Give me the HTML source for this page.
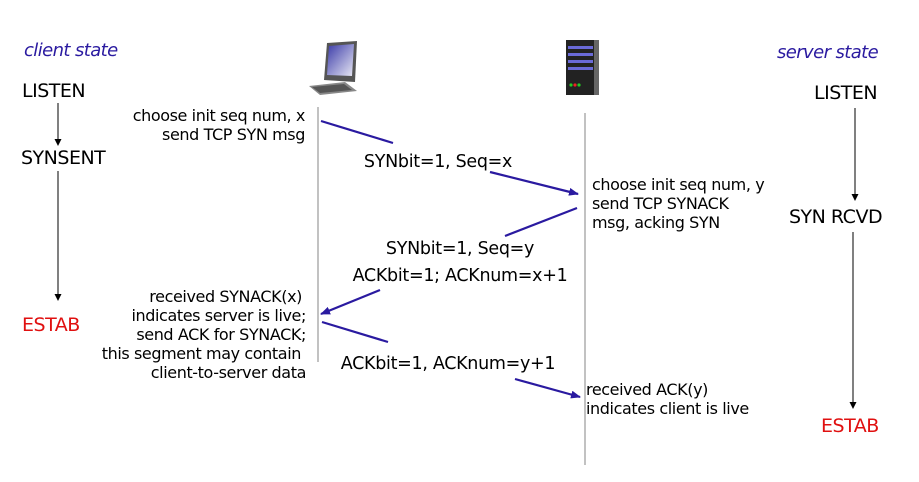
<!DOCTYPE html>
<html><head><meta charset="utf-8"><style>
html,body{margin:0;padding:0;background:#fff;}
svg{display:block;}
text{font-family:"DejaVu Sans","Liberation Sans",sans-serif;}
</style></head><body>
<svg width="919" height="482" viewBox="0 0 919 482" xmlns="http://www.w3.org/2000/svg">
<defs>
<marker id="ab" markerWidth="10" markerHeight="8" refX="9" refY="4" orient="auto" markerUnits="userSpaceOnUse"><path d="M0,0 L10,4 L0,8 Z" fill="#2a1aa0"/></marker>
<linearGradient id="scr" x1="0" y1="0" x2="1" y2="1"><stop offset="0" stop-color="#3a3aa8"/><stop offset="1" stop-color="#e8e8f4"/></linearGradient>
</defs>
<text x="24" y="56" font-size="18" font-style="italic" fill="#2a1aa0" letter-spacing="-0.6">client state</text>
<text x="777" y="58" font-size="18" font-style="italic" fill="#2a1aa0" letter-spacing="-0.6">server state</text>
<g font-size="19" fill="#000" letter-spacing="-0.5">
<text x="22" y="97">LISTEN</text>
<text x="21" y="164">SYNSENT</text>
<text x="22" y="331" fill="#e01010">ESTAB</text>
<text x="814" y="99">LISTEN</text>
<text x="789" y="223">SYN RCVD</text>
<text x="821" y="432" fill="#e01010">ESTAB</text>
</g>
<g stroke="#000" stroke-width="1">
<line x1="58" y1="103" x2="58" y2="141"/>
<line x1="58" y1="171" x2="58" y2="296"/>
<line x1="855" y1="108" x2="855" y2="196"/>
<line x1="853" y1="232" x2="853" y2="404"/>
</g>
<g fill="#000">
<path d="M54.5,139 L61.5,139 L58,146 Z"/>
<path d="M54.5,294 L61.5,294 L58,301 Z"/>
<path d="M851.5,194 L858.5,194 L855,201 Z"/>
<path d="M849.5,402 L856.5,402 L853,409 Z"/>
</g>
<line x1="318" y1="107" x2="318" y2="362" stroke="#999" stroke-width="1.2"/>
<line x1="585" y1="113" x2="585" y2="465" stroke="#999" stroke-width="1.2"/>
<g>
<path d="M327,43 L357,41 L355,82 L324,80 Z" fill="#555"/>
<path d="M329,46 L354,44 L352,76 L327,75 Z" fill="url(#scr)"/>
<path d="M309,86 L345,82 L357,91 L320,95 Z" fill="#888"/>
<path d="M312,87 L344,84 L352,90 L320,93 Z" fill="#555"/>
</g>
<g>
<rect x="566" y="40" width="32" height="55" fill="#222"/>
<rect x="594" y="40" width="5" height="55" fill="#666"/>
<rect x="568" y="46" width="25" height="3" fill="#6a6ad8"/>
<rect x="568" y="53" width="25" height="3" fill="#6a6ad8"/>
<rect x="568" y="60" width="25" height="3" fill="#6a6ad8"/>
<rect x="568" y="67" width="25" height="3" fill="#6a6ad8"/>
<circle cx="571" cy="85" r="1.6" fill="#2c2"/><circle cx="575" cy="85" r="1.6" fill="#e22"/><circle cx="579" cy="85" r="1.6" fill="#2c2"/>
</g>
<g stroke="#2a1aa0" stroke-width="2.2" fill="none">
<line x1="321" y1="121" x2="393" y2="143"/>
<line x1="490" y1="172" x2="578" y2="194" marker-end="url(#ab)"/>
<line x1="577" y1="208" x2="505" y2="236"/>
<line x1="380" y1="290" x2="321" y2="314" marker-end="url(#ab)"/>
<line x1="322" y1="322" x2="388" y2="342"/>
<line x1="515" y1="379" x2="580" y2="397" marker-end="url(#ab)"/>
</g>
<g font-size="17.5" fill="#000" text-anchor="middle" letter-spacing="-0.3">
<text x="438" y="167">SYNbit=1, Seq=x</text>
<text x="460" y="254">SYNbit=1, Seq=y</text>
<text x="460" y="281">ACKbit=1; ACKnum=x+1</text>
<text x="448" y="369">ACKbit=1, ACKnum=y+1</text>
</g>
<g font-size="16" fill="#000" text-anchor="end" letter-spacing="-0.4">
<text x="305" y="121">choose init seq num, x</text>
<text x="305" y="140">send TCP SYN msg</text>
<text x="302" y="302">received SYNACK(x)</text>
<text x="306" y="321">indicates server is live;</text>
<text x="306" y="340">send ACK for SYNACK;</text>
<text x="301" y="359">this segment may contain</text>
<text x="306" y="378">client-to-server data</text>
</g>
<g font-size="16" fill="#000" letter-spacing="-0.4">
<text x="592" y="190">choose init seq num, y</text>
<text x="592" y="209">send TCP SYNACK</text>
<text x="592" y="228">msg, acking SYN</text>
<text x="586" y="395">received ACK(y)</text>
<text x="586" y="414">indicates client is live</text>
</g>
</svg>
</body></html>
